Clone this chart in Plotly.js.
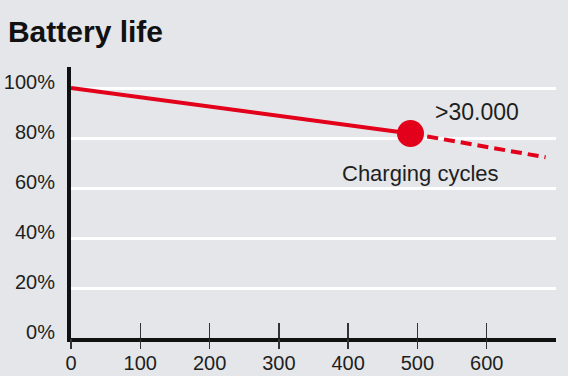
<!DOCTYPE html>
<html><head><meta charset="utf-8">
<script src="https://cdn.plot.ly/plotly-3.0.1.min.js"></script>
<style>html,body{margin:0;padding:0;background:#e4e6e9;}#chart{width:568px;height:376px;}</style>
</head><body><div id="chart"></div>
<script>
// Data
const solidCycles = [0, 490];
const solidLife = [100, 81.8];
const dashedCycles = [490, 685];
const dashedLife = [81.8, 72.3];
const markerCycles = [490];
const markerLife = [81.8];
const xTickVals = [0, 100, 200, 300, 400, 500, 600];
const xTickText = ['0', '100', '200', '300', '400', '500', '600'];
const yTickVals = [0, 20, 40, 60, 80, 100];
const yTickText = ['0%', '20%', '40%', '60%', '80%', '100%'];
const labelCycles = ['>30.000', 'Charging cycles'];

const red = '#e2001a';
const bg = '#e4e6e9';
const txt = '#1e1e1e';
const font = 'Liberation Sans, Arial, sans-serif';
const yLabelShift = 2.4; // labels sit slightly above their gridlines

const traces = [
  {x: solidCycles, y: solidLife, mode: 'lines', line: {color: red, width: 4}, hoverinfo: 'skip'},
  {x: dashedCycles, y: dashedLife, mode: 'lines', line: {color: red, width: 4, dash: '11px,6px'}, hoverinfo: 'skip'},
  {x: markerCycles, y: markerLife, mode: 'markers', marker: {color: red, size: 27}, hoverinfo: 'skip'},
  {x: [0, 700], y: [null, null], xaxis: 'x2', mode: 'lines', hoverinfo: 'skip'},
  {x: [0, 700], y: [null, null], yaxis: 'y2', mode: 'lines', hoverinfo: 'skip'}
];

const layout = {
  width: 568, height: 376,
  paper_bgcolor: bg, plot_bgcolor: bg,
  showlegend: false,
  margin: {l: 71, r: 12, t: 67, b: 38},
  title: {text: '<b>Battery life</b>', x: 0.014, xanchor: 'left', y: 0.945, yanchor: 'top',
          font: {family: font, size: 30, color: '#111'}},
  xaxis: {range: [0, 700], tickvals: xTickVals, ticktext: xTickText,
          ticks: 'inside', ticklen: 15, tickwidth: 1.5, tickcolor: '#333',
          showgrid: false, zeroline: false, showline: true, linecolor: '#111', linewidth: 4,
          tickfont: {family: font, size: 20, color: txt}, ticklabelstandoff: 4, fixedrange: true},
  xaxis2: {range: [0, 700], overlaying: 'x', anchor: 'y', side: 'bottom', tickvals: xTickVals,
           ticks: 'outside', ticklen: 10, tickwidth: 1.5, tickcolor: '#333',
           showticklabels: false, showgrid: false, zeroline: false, showline: false},
  yaxis: {range: [0, 108.4], tickvals: yTickVals, showticklabels: false, ticks: '',
          showgrid: true, gridcolor: '#ffffff', gridwidth: 3, zeroline: false,
          showline: true, linecolor: '#111', linewidth: 4, fixedrange: true},
  yaxis2: {range: [-yLabelShift, 108.4 - yLabelShift], overlaying: 'y', side: 'left', anchor: 'x',
           tickvals: yTickVals, ticktext: yTickText, ticks: '', showgrid: false, zeroline: false,
           showline: false, tickfont: {family: font, size: 20, color: txt}, ticklabelstandoff: 15},
  annotations: [
    {x: 586, y: 90.5, xref: 'x', yref: 'y', text: labelCycles[0], showarrow: false,
     font: {family: font, size: 23, color: txt}},
    {x: 505, y: 66, xref: 'x', yref: 'y', text: labelCycles[1], showarrow: false,
     font: {family: font, size: 22, color: txt}}
  ]
};

Plotly.newPlot('chart', traces, layout, {displayModeBar: false, staticPlot: true});
</script></body></html>
